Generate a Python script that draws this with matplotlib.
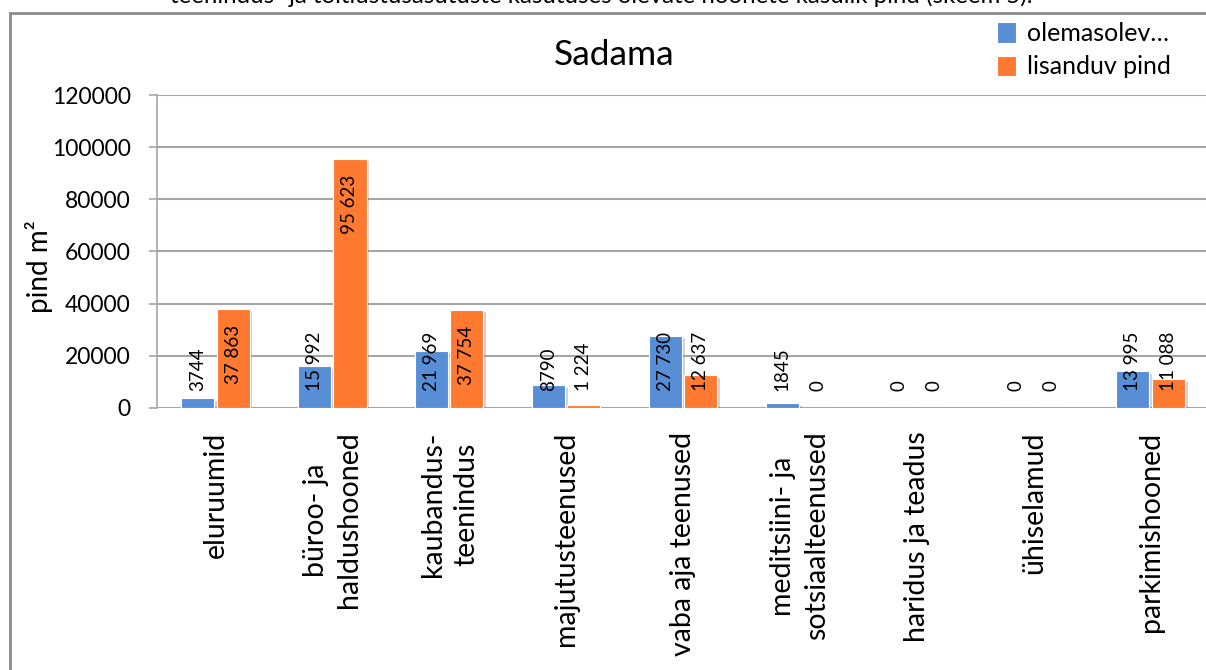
import matplotlib
matplotlib.use("Agg")
import matplotlib.pyplot as plt
import matplotlib.patheffects as pe
from matplotlib.lines import Line2D
import numpy as np

plt.rcParams['font.family'] = ['Lato', 'DejaVu Sans']

categories = ["eluruumid", "büroo- ja\nhaldushooned", "kaubandus-\nteenindus",
              "majutusteenused", "vaba aja teenused", "meditsiini- ja\nsotsiaalteenused",
              "haridus ja teadus", "ühiselamud", "parkimishooned"]
olemasolev = [3744, 15992, 21969, 8790, 27730, 1845, 0, 0, 13995]
lisanduv = [37863, 95623, 37754, 1224, 12637, 0, 0, 0, 11088]
series_names = ["olemasolev…", "lisanduv pind"]
title = "Sadama"
ylabel = "pind m²"
yticks = [0, 20000, 40000, 60000, 80000, 100000, 120000]
caption = "teenindus- ja toitlustusasutuste kasutuses olevate hoonete kasulik pind (skeem 5)."

BLUE = "#588ED6"
ORANGE = "#FF7A30"
GRID = "#A6A6A6"

W, H = 1206, 670
fig = plt.figure(figsize=(W / 100, H / 100), dpi=100)
ax = fig.add_axes([157 / W, 1 - 408 / H, 1052 / W, 313 / H])

x = np.arange(len(categories))
bw = 0.283
off = 0.151
shadow = [pe.SimplePatchShadow(offset=(2, -2), shadow_rgbFace="#808080", alpha=0.35), pe.Normal()]
b1 = ax.bar(x - off, olemasolev, bw, color=BLUE, edgecolor="white", linewidth=0.8,
            label=series_names[0], zorder=3, path_effects=shadow)
b2 = ax.bar(x + off, lisanduv, bw, color=ORANGE, edgecolor="white", linewidth=0.8,
            label=series_names[1], zorder=3, path_effects=shadow)

ax.set_xlim(-0.5, len(categories) - 0.5)
ax.set_ylim(0, 120000)
ax.set_yticks(yticks)
ax.set_yticklabels([str(t) for t in yticks], fontsize=16.5)
ax.yaxis.grid(True, color=GRID, linewidth=1.5)
ax.set_axisbelow(True)
for s in ["top", "right", "bottom"]:
    ax.spines[s].set_visible(False)
ax.spines["left"].set_color(GRID)
ax.spines["left"].set_linewidth(1.2)
ax.tick_params(axis="y", length=6, width=1.2, color=GRID, pad=13)
ax.set_xticks(x)
ax.set_xticklabels(categories, rotation=90, fontsize=20.5, linespacing=1.35)
ax.tick_params(axis="x", length=0, pad=17)

# data labels
def fmt_blue(v):
    return f"{v:,}".replace(",", " ") if v >= 10000 else str(v)

def fmt_orange(v):
    return f"{v:,}".replace(",", " ")

texts = []
for xs, vals, f in [(x - off, olemasolev, fmt_blue), (x + off, lisanduv, fmt_orange)]:
    for xi, v in zip(xs, vals):
        t = ax.annotate(f(v), xy=(xi, v), xytext=(0, -11.5), textcoords="offset points",
                        rotation=90, ha="center", va="top", fontsize=13.5, zorder=5)
        texts.append((t, xi))

fig.canvas.draw()
renderer = fig.canvas.get_renderer()
base_px = ax.transData.transform((0, 0))[1]
for t, xi in texts:
    bb = t.get_window_extent(renderer)
    if bb.y0 < base_px + 17:
        t.xy = (xi, 0)
        t.set_position((0, 12.5))
        t.set_va("bottom")

# title, y label, legend, caption
fig.text(614 / W, 1 - 55 / H, title, ha="center", va="center", fontsize=25.5)
fig.text(39 / W, 1 - 267 / H, ylabel, ha="center", va="center", rotation=90, fontsize=20)
leg = fig.legend(handles=[b1, b2], loc="upper left", bbox_to_anchor=(997 / W, 1 - 22 / H),
                 frameon=False, fontsize=18, handlelength=0.75, handleheight=0.9,
                 handletextpad=0.45, labelspacing=0.42, borderaxespad=0, borderpad=0)
for h in leg.legend_handles:
    h.set_path_effects([])
fig.text(601 / W, 1 - 3 / H, caption, ha="center", va="baseline", fontsize=17.3)

# outer frame
fig.add_artist(Line2D([10 / W, 10 / W], [0, 1 - 13 / H], transform=fig.transFigure,
                      color="#8C8C8C", linewidth=2))
fig.add_artist(Line2D([10 / W, 1], [1 - 13 / H, 1 - 13 / H], transform=fig.transFigure,
                      color="#8C8C8C", linewidth=2))

fig.savefig("out.png", dpi=100)
